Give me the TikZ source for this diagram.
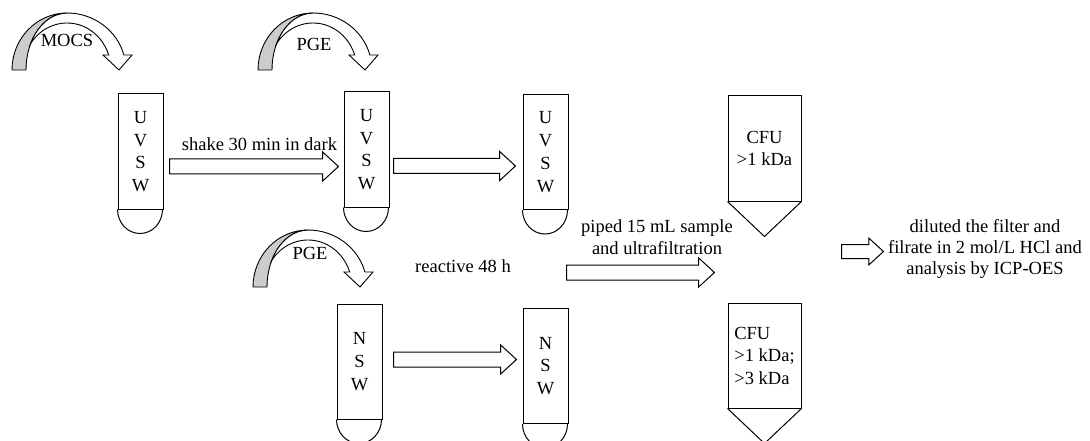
\documentclass[tikz,border=0pt]{standalone}
\usepackage{fontspec}
\setmainfont{Liberation Serif}
\usetikzlibrary{shapes.arrows}

\tikzset{
	tube/.style={draw, line width=1pt, minimum width=45pt, minimum height=115pt, inner sep=0pt, align=center, font=\fontsize{18.5}{22.8}\selectfont},
	cfu/.style={draw, line width=1pt, minimum width=73pt, minimum height=105pt, font=\fontsize{18.5}{22.5}\selectfont},
	blockarrow/.style={single arrow, draw, line width=1pt, fill=white, inner sep=7pt, minimum width=28pt, single arrow head extend=7pt, single arrow tip angle=85, anchor=tail},
	% bent block arrow, origin at the outer foot of its grey back
	pics/bent/.style={code={
		\filldraw[fill=gray!40, line width=0.9pt] (0,0) arc[start angle=180, end angle=90, x radius=55pt, y radius=57pt]
			arc[start angle=90, end angle=180, x radius=41pt, y radius=57pt] -- cycle;
		\filldraw[fill=white, line width=0.9pt] (55,57) arc[start angle=90, end angle=15.26, x radius=59pt, y radius=57pt]
			-- (120,15) -- (107,0) -- (91,15) -- (96.7,15)
			arc[start angle=18.6, end angle=145.5, x radius=44pt, y radius=47pt]
			arc[start angle=152, end angle=90, x radius=41pt, y radius=57pt] -- cycle;
	}}
}

\begin{document}
\begin{tikzpicture}[x=1pt, y=1pt, font=\fontsize{18.5}{22}\selectfont]
	\useasboundingbox (0,0) rectangle (1090,-441);

	% reagents added to the tubes
	\pic (addmocs) at (12,-70) {bent};
	\pic (addpge) at (258,-70) {bent};
	\pic (addpgeb) at (253,-287) {bent};
	\node (mocs) at (67,-40) {MOCS};
	\node (pge) at (314,-44) {PGE};
	\node (pgeb) at (310,-253) {PGE};

	% tubes
	\node[tube] (u1) at (140.5,-151.5) {U\\V\\S\\W};
	\node[tube] (u2) at (366.5,-149.5) {U\\V\\S\\W};
	\node[tube] (u3) at (545.5,-152) {U\\V\\S\\W};
	\node[tube] (n1) at (359.5,-361.5) {N\\S\\W};
	\node[tube] (n2) at (545.5,-366) {N\\S\\W};
	\foreach \t in {u1,u2,u3,n1,n2}
		\draw[line width=1pt] (\t.south west) arc[start angle=180, end angle=360, x radius=22.5pt, y radius=24pt];

	% centrifugal filter units
	\node[cfu, align=center] (c1) at (764.5,-148.5) {CFU\\>1 kDa};
	\node[cfu, align=left] (c2) at (764.5,-355.5) {CFU\\>1 kDa;\\>3 kDa};
	\draw[line width=1pt] (c1.south west) -- ([yshift=-35pt]c1.south) -- (c1.south east);
	\draw[line width=1pt] (c2.south west) -- ([yshift=-35pt]c2.south) -- (c2.south east);

	% steps
	\node[blockarrow, minimum height=169pt] (shake) at (169,-166.5) {};
	\node[blockarrow, minimum height=122pt] (rest) at (393,-166) {};
	\node[blockarrow, minimum height=123pt] (react) at (393,-359.5) {};
	\node[blockarrow, minimum height=148pt] (filt) at (566,-272.5) {};
	\node[blockarrow, minimum height=42pt, minimum width=26pt, inner sep=6.5pt, single arrow head extend=6.5pt] (dil) at (841,-251.5) {};

	\node (shaketxt) at (259.5,-144) {shake 30 min in dark};
	\node (reacttxt) at (463,-266) {reactive 48 h};
	\node[align=center] (filttxt) at (657,-237) {piped 15 mL sample\\and ultrafiltration};
	\node[align=center, font=\fontsize{18.5}{21}\selectfont] (diltxt) at (985,-249) {diluted the filter and\\filrate in 2 mol/L HCl and\\analysis by ICP-OES};
\end{tikzpicture}
\end{document}
